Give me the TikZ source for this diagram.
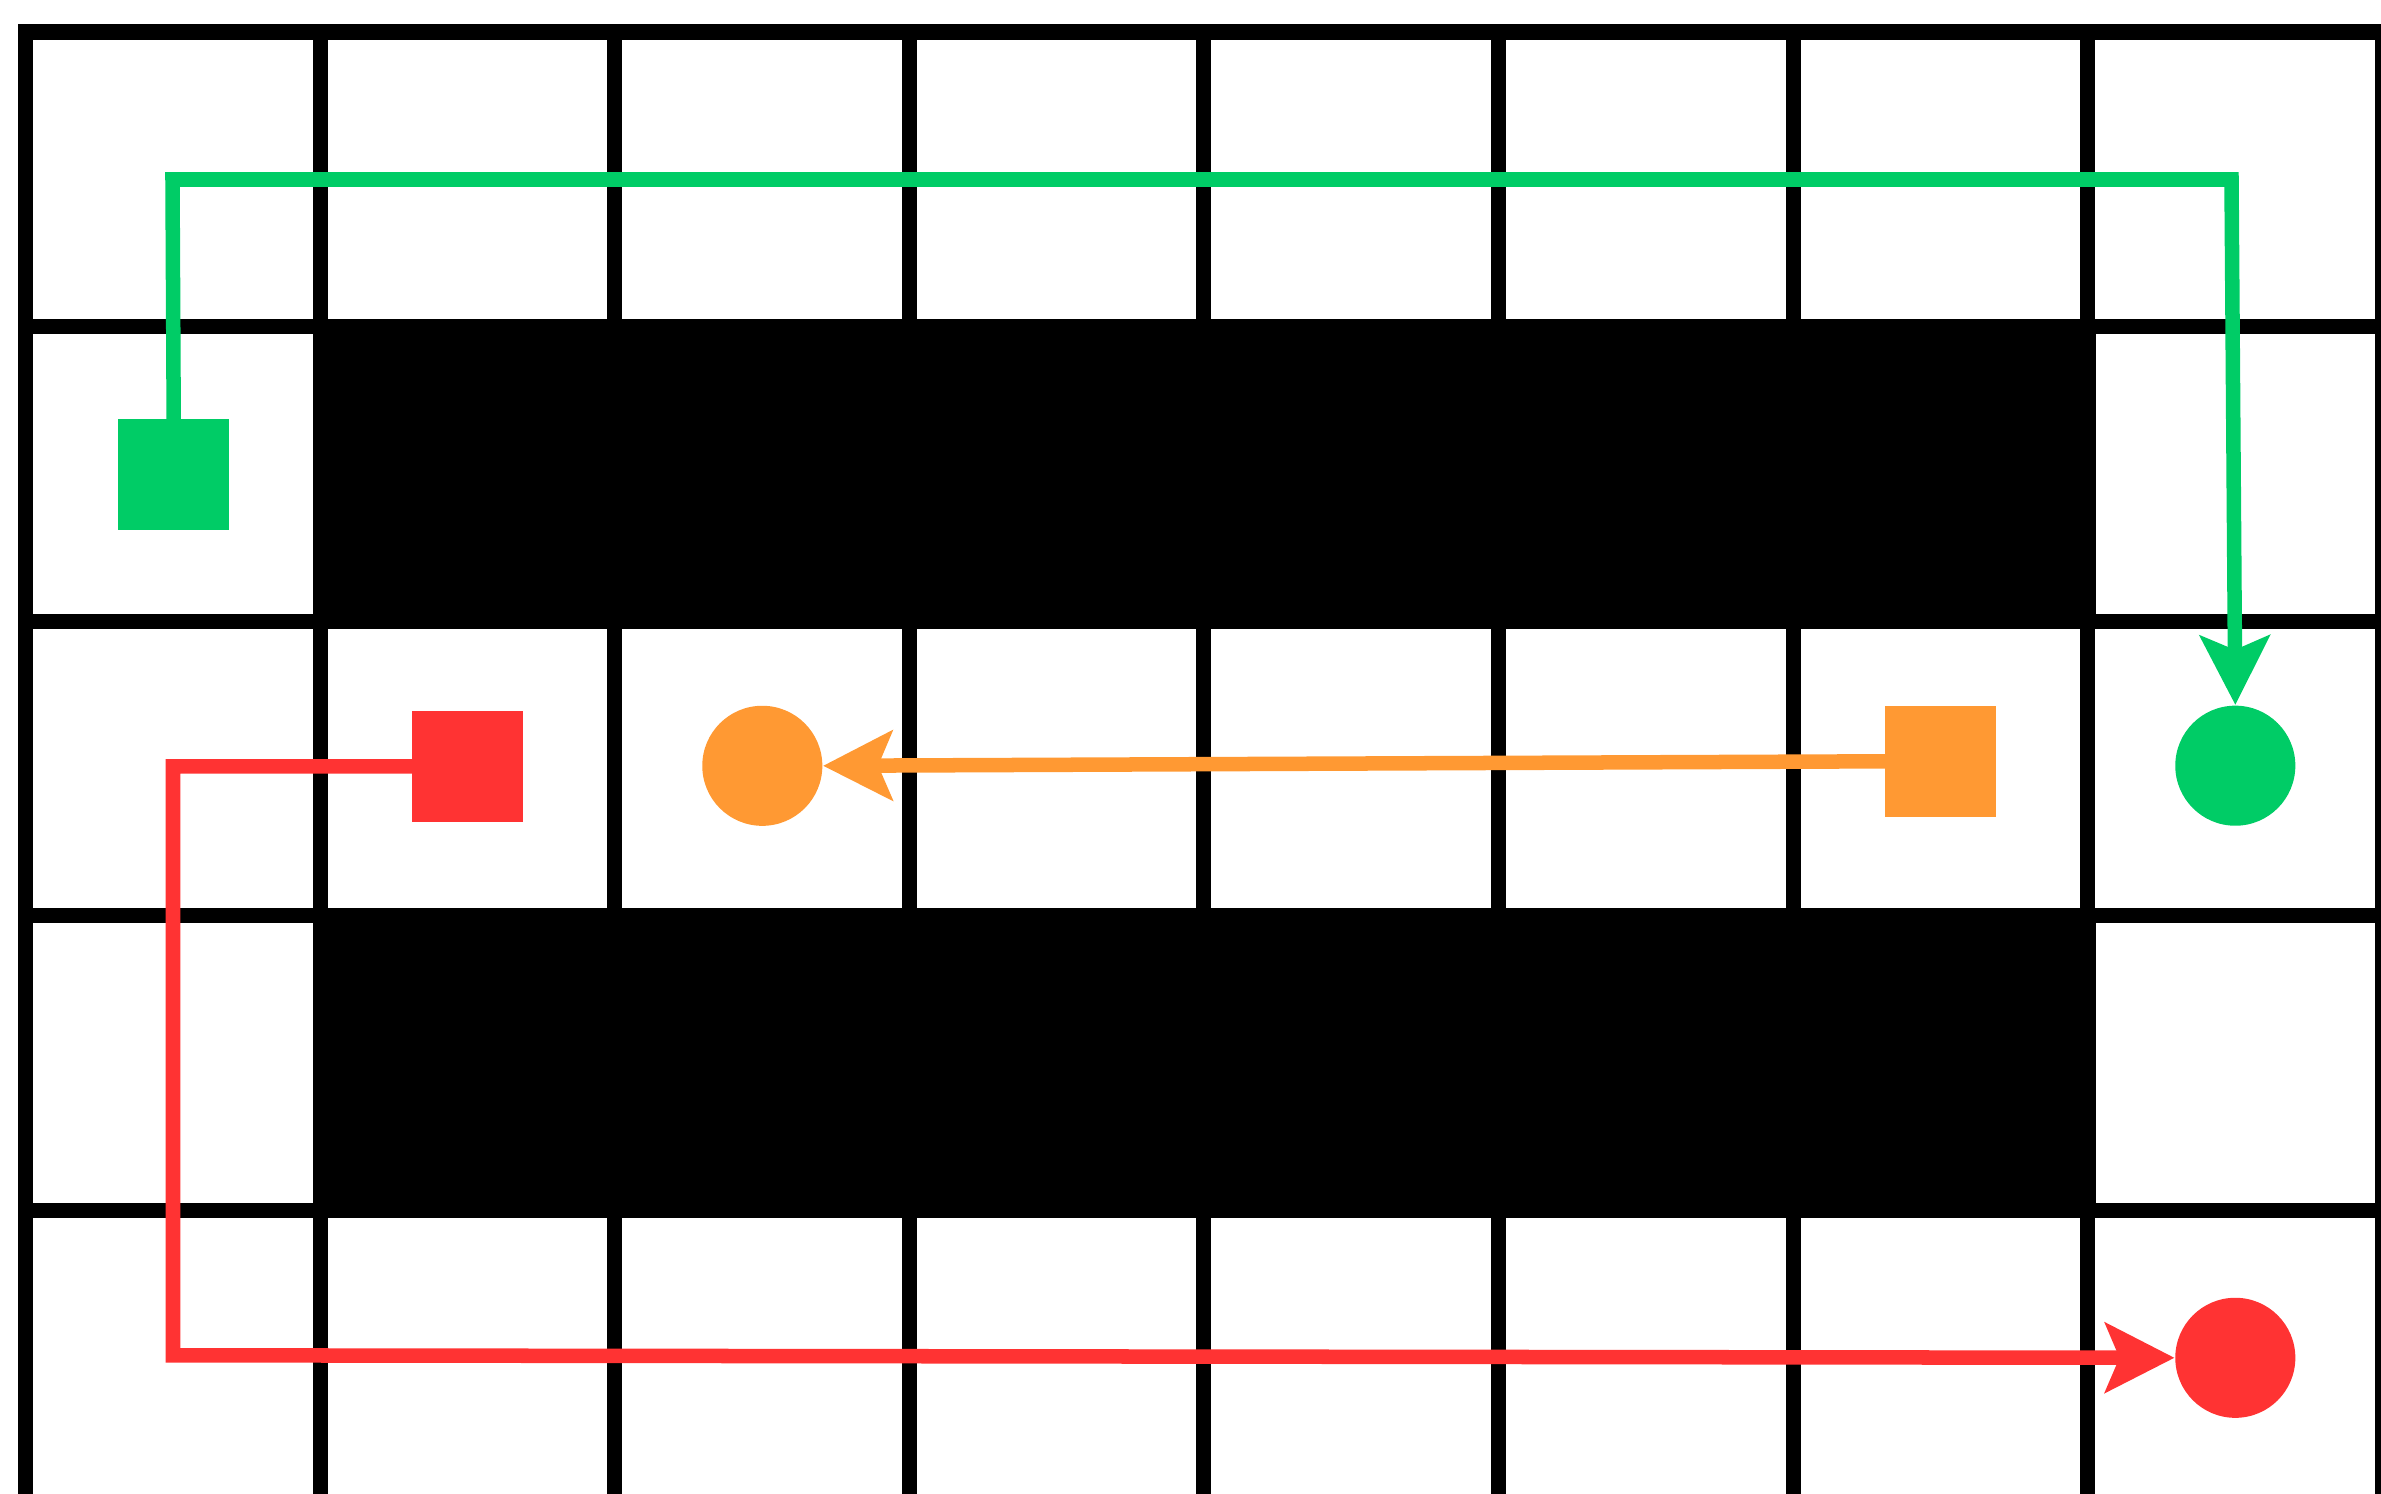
\documentclass[tikz,border=0pt]{standalone}
\usetikzlibrary{arrows.meta}
\definecolor{pgreen}{RGB}{0,204,102}
\definecolor{porange}{RGB}{255,153,51}
\definecolor{pred}{RGB}{255,51,51}
\begin{document}
\begin{tikzpicture}[x=0.01cm,y=-0.01cm,
  gridline/.style={line width=0.15cm,black},
  block/.style={fill=black},
  agent/.style={rectangle,minimum size=1.11cm,inner sep=0pt,draw=none,fill=#1},
  goal/.style={circle,minimum size=1.2cm,inner sep=0pt,draw=none,fill=#1},
  route/.style={line width=0.145cm,draw=#1,line join=miter,shorten <=-0.06cm,
    -{Stealth[length=0.69cm,width=0.69cm,inset=0.14cm,fill=#1]}}]
\useasboundingbox (0,0) rectangle (2381,1494);
% grid
\foreach \i in {0,...,8}
  \draw[gridline] ({25.5+294.6*\i},24.5) -- ({25.5+294.6*\i},1510);
\foreach \j in {0,...,5}
  \draw[gridline] (18,{32+294.6*\j}) -- (2400,{32+294.6*\j});
% walls
\fill[block] (313,319.1) rectangle (2095.7,628.7);
\fill[block] (313,908.3) rectangle (2095.7,1217.9);
% agents and goals
\node[agent=pgreen] (gsq) at (173.7,474.5) {};
\node[agent=pred] (rsq) at (467.5,766.3) {};
\node[agent=porange] (osq) at (1940.5,761.3) {};
\node[goal=pgreen] (gci) at (2235.3,765.7) {};
\node[goal=porange] (oci) at (762.3,765.8) {};
\node[goal=pred] (rci) at (2235.3,1357.8) {};
% routes
\coordinate (g1) at (172.5,179.5);
\coordinate (g2) at (2231.5,179.5);
\draw[route=pgreen] (gsq.north) -- (g1) -- (g2) -- (gci.north);
\draw[route=porange] (osq.west) -- (oci.east);
\coordinate (r1) at (173,766.3);
\coordinate (r2) at (173,1355.3);
\draw[route=pred] (rsq.west) -- (r1) -- (r2) -- (rci.west);
\end{tikzpicture}
\end{document}
